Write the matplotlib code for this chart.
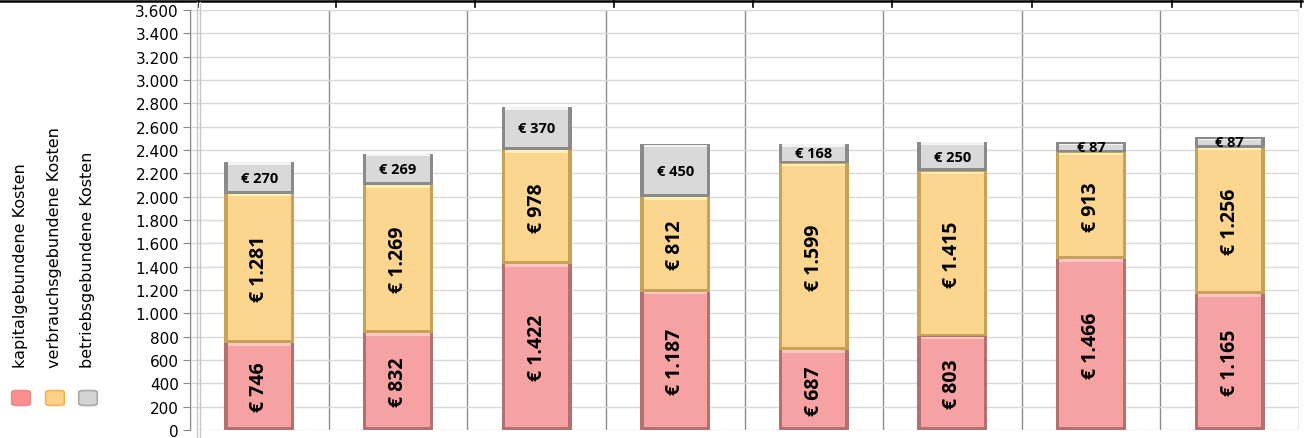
"""
plot.py
Gestapeltes Säulendiagramm der Kostenarten (kapital-, verbrauchs-, betriebsgebunden)
"""

import matplotlib
matplotlib.use("Agg")

import matplotlib.pyplot as plt
from matplotlib.lines import Line2D
from matplotlib.patches import FancyBboxPatch
from matplotlib.ticker import FuncFormatter, MultipleLocator
import numpy as np

# Daten
series_names = ["kapitalgebundene Kosten", "verbrauchsgebundene Kosten", "betriebsgebundene Kosten"]
kapital = [746, 832, 1422, 1187, 687, 803, 1466, 1165]
verbrauch = [1281, 1269, 978, 812, 1599, 1415, 913, 1256]
betrieb = [270, 269, 370, 450, 168, 250, 87, 87]

# Farben: (Kante, Fläche, Glanzlicht)
colors = [
    ("#b27070", "#f6a2a2", "#fbc6c6"),
    ("#c9a058", "#fcd58e", "#fff0b4"),
    ("#8a8a8a", "#d9d9d9", "#f3f3f3"),
]
legend_edges = ["#f08a8a", "#f6b24a", "#a8a8a8"]
legend_faces = ["#fb8f8f", "#ffd08a", "#d4d4d4"]

W, H = 1305, 439
fig = plt.figure(figsize=(W / 100, H / 100), dpi=100)
fig.patch.set_facecolor("white")
ax = fig.add_axes([190 / W, 8 / H, 1109 / W, 420 / H])

x = np.arange(len(kapital))
width = 0.505
dx = 0.024   # seitlicher Rand der Fase (Kategorie-Einheiten)
dy = 24      # Rand der Fase oben/unten (Werte-Einheiten)

bottom = np.zeros(len(kapital))
for i, vals in enumerate([kapital, verbrauch, betrieb]):
    vals = np.array(vals, dtype=float)
    edge, face, light = colors[i]
    # Außenkörper (dunkle Kante)
    ax.bar(x, vals, width, bottom=bottom, color=edge, edgecolor="none", zorder=3)
    # Innenfläche
    inner_h = np.maximum(vals - 2 * dy, 1)
    ax.bar(x, inner_h, width - 2 * dx, bottom=bottom + dy, color=face,
           edgecolor="none", zorder=4)
    # Glanzlicht oben
    ax.bar(x, np.minimum(dy * 0.9, vals * 0.15), width - 2 * dx, bottom=bottom + vals - dy,
           color=light, edgecolor="none", zorder=4)

    # Beschriftung
    for xi, b, v in zip(x, bottom, vals):
        label = "€ " + f"{int(v):,}".replace(",", ".")
        if i < 2:
            ax.text(xi, b + v / 2, label, rotation=90, ha="center", va="center",
                    fontsize=14, fontweight="bold", family="Open Sans", zorder=5)
        else:
            ax.text(xi, b + v / 2, label, ha="center", va="center",
                    fontsize=10.5, fontweight="bold", family="Open Sans", zorder=5)
    bottom += vals

# Achsen
ax.set_xlim(-0.5, len(kapital) - 0.5)
ax.set_ylim(0, 3600)
ax.yaxis.set_major_locator(MultipleLocator(200))
ax.yaxis.set_major_formatter(FuncFormatter(lambda v, _: f"{int(v):,}".replace(",", ".")))
ax.set_xticks([])
ax.set_xticks(np.arange(len(kapital) + 1) - 0.5, minor=True)
ax.tick_params(axis="x", which="both", length=0)
ax.tick_params(axis="y", length=5, color="#888888", labelsize=11, pad=3)
for lbl in ax.get_yticklabels():
    lbl.set_family("DejaVu Sans")

ax.grid(axis="y", which="major", color="#d9d9d9", linewidth=1, zorder=0)
ax.grid(axis="x", which="minor", color="#8c8c8c", linewidth=1, zorder=1)
for s in ["top", "right", "bottom"]:
    ax.spines[s].set_visible(False)
ax.spines["left"].set_color("#888888")
ax.set_axisbelow(True)

# Legende (senkrecht, links)
legend_x = [21, 55, 88]
for lx, name, ec, fc in zip(legend_x, series_names, legend_edges, legend_faces):
    fig.text(lx / W, 1 - 368 / H, name, rotation=90, ha="center", va="bottom",
             fontsize=11.5, family="DejaVu Sans")
    fig.patches.append(FancyBboxPatch(((lx - 8) / W, 1 - 406 / H), 16 / W, 14 / H,
                                      boxstyle="round,pad=0.001,rounding_size=0.004",
                                      transform=fig.transFigure, facecolor=fc,
                                      edgecolor=ec, linewidth=1.2))

# Tabellenrahmen im Hintergrund
fig.lines.append(Line2D([0, 1302 / W], [1 - 2 / H, 1 - 2 / H], transform=fig.transFigure,
                        color="black", linewidth=1.8))
for tx in [198, 336, 475, 614, 753, 892, 1032, 1172, 1301]:
    fig.lines.append(Line2D([tx / W, tx / W], [1 - 2 / H, 1 - 8 / H],
                            transform=fig.transFigure, color="black", linewidth=1.2))
for vx in [197, 200]:
    fig.lines.append(Line2D([vx / W, vx / W], [0, 1 - 3 / H], transform=fig.transFigure,
                            color="#c8c8c8", linewidth=1))

fig.savefig("out.png", dpi=100)
plt.close(fig)
